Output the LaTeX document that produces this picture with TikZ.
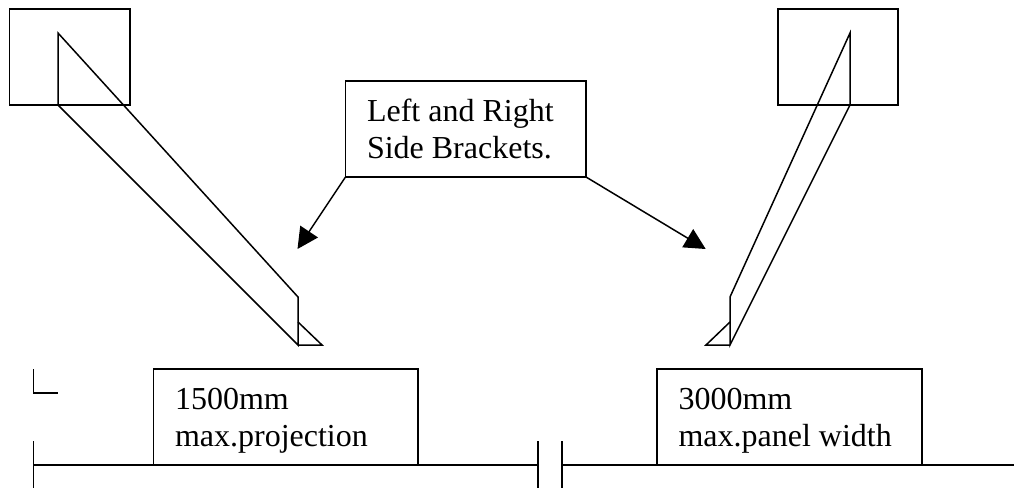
\documentclass[tikz,border=0pt]{standalone}
\usepackage{fontspec}
\setmainfont{Liberation Serif}
\usetikzlibrary{arrows.meta}
\newcommand{\twolines}[3]{\rule{0pt}{40pt}\makebox[#1][l]{#2}\\#3\rule[-19pt]{0pt}{1pt}}
\tikzset{
  x=1pt,y=-1pt,
  ink/.style={line width=1.5pt,line join=miter,line cap=butt,black},
  textbox/.style={ink,draw,fill=white,rectangle,anchor=north west,outer sep=0pt,inner xsep=21.5pt,inner ysep=0pt,
    minimum height=96pt,align=left,text=black,font=\fontsize{32}{37}\selectfont},
  pointer/.style={ink,-{Triangle[length=21pt,width=21pt]}}
}
\begin{document}
\begin{tikzpicture}
\useasboundingbox (0,0) rectangle (1014,488);
% left bracket
\coordinate (lA) at (58,33);
\coordinate (lB) at (58,105);
\coordinate (lC) at (298,297);
\coordinate (lD) at (298,345);
\coordinate (lE) at (298,322);
\coordinate (lF) at (322,345);
\draw[ink] (9.5,9) rectangle (130,105);
\draw[ink] (lA) -- (lB) -- (lD) -- (lC) -- cycle;
\draw[ink] (lE) -- (lF) -- (lD);
% right bracket
\coordinate (rA) at (850,33);
\coordinate (rB) at (850,105);
\coordinate (rC) at (730,297);
\coordinate (rD) at (730,345);
\coordinate (rE) at (730,322);
\coordinate (rF) at (706,345);
\draw[ink] (778,9) rectangle (898,105);
\draw[ink] (rA) -- (rB) -- (rD) -- (rC) -- cycle;
\draw[ink] (rE) -- (rF) -- (rD);
% dimension marks
\coordinate (cornerTop) at (33.5,369);
\coordinate (cornerMid) at (33.5,393);
\coordinate (cornerEnd) at (58,393);
\draw[ink] (cornerTop) -- (cornerMid) -- (cornerEnd);
\coordinate (t1a) at (33.5,441); \coordinate (t1b) at (33.5,488);
\coordinate (t2a) at (537.8,441); \coordinate (t2b) at (537.8,488);
\coordinate (t3a) at (561.8,441); \coordinate (t3b) at (561.8,488);
\coordinate (l1a) at (33.5,465); \coordinate (l1b) at (537.8,465);
\coordinate (l2a) at (561.8,465); \coordinate (l2b) at (1014,465);
\draw[ink] (t1a) -- (t1b);
\draw[ink] (t2a) -- (t2b);
\draw[ink] (t3a) -- (t3b);
\draw[ink] (l1a) -- (l1b);
\draw[ink] (l2a) -- (l2b);
% text boxes
\node[textbox] (sides) at (345.5,81) {\twolines{197.5pt}{Left and Right}{Side Brackets.}};
\node[textbox] (proj) at (153.5,369) {\twolines{221.5pt}{1500mm}{max.projection}};
\node[textbox] (panel) at (657,369) {\twolines{222pt}{3000mm}{max.panel width}};
% arrows
\coordinate (tipL) at (297.5,249);
\coordinate (tipR) at (705.7,249);
\draw[pointer] (sides.south west) -- (tipL);
\draw[pointer] (sides.south east) -- (tipR);
\end{tikzpicture}
\end{document}
